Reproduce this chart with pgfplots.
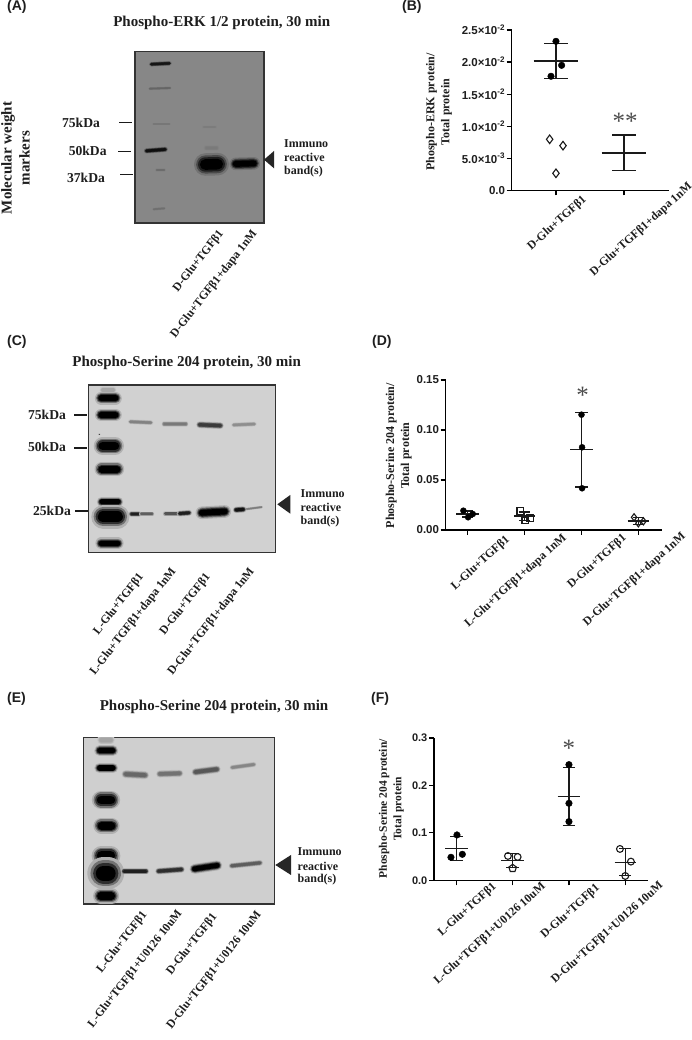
\documentclass[border=0pt]{standalone}
\usepackage{fontspec}
\setmainfont{Liberation Serif}
\newfontfamily\arialf{Liberation Sans}
\usepackage{pgfplots}
\pgfplotsset{compat=1.18}
\usetikzlibrary{plotmarks}
\definecolor{txt}{HTML}{1E1E1E}
\definecolor{ln}{HTML}{1A1A1A}
\colorlet{blotbg}{gray}
\newcommand{\fs}[1]{\bfseries\fontsize{#1}{#1}\selectfont}
% one blot band, in the blot's pixel coordinates: x1 y1 x2 y2 thickness strength
\newcommand{\band}[6]{%
 \addplot[no marks,line cap=round,shorten <=#5*0.5pt,shorten >=#5*0.5pt,line width=#5*1.8pt,color=black!#6!blotbg!15!blotbg] coordinates {(#1,#2)(#3,#4)};
 \addplot[no marks,line cap=round,shorten <=#5*0.5pt,shorten >=#5*0.5pt,line width=#5*1.45pt,color=black!#6!blotbg!45!blotbg] coordinates {(#1,#2)(#3,#4)};
 \addplot[no marks,line cap=round,shorten <=#5*0.5pt,shorten >=#5*0.5pt,line width=#5*1.15pt,color=black!#6!blotbg!78!blotbg] coordinates {(#1,#2)(#3,#4)};
 \addplot[no marks,line cap=round,shorten <=#5*0.5pt,shorten >=#5*0.5pt,line width=#5*0.85pt,color=black!#6!blotbg] coordinates {(#1,#2)(#3,#4)};
}
\newcommand{\seg}[4]{\addplot[no marks,ln,line width=1.1pt] coordinates {(#1,#2)(#3,#4)};}
\pgfplotsset{
 sc/.style={scale only axis,axis lines=left,axis line style={-,line width=1.5pt,black},
  tick style={line width=1.2pt,black},tick align=outside,major tick length=5pt,
  xticklabels={},clip=false,
  yticklabel style={font=\arialf\fs{#1},text=txt,inner sep=1.5pt},
  every axis label/.append style={font=\fs{12},text=txt,align=center}},
 blot/.style={scale only axis,ticks=none,clip=true,
  axis background/.style={fill=#1},axis line style={line width=1.1pt,color=black!80},
  y dir=reverse,title style={font=\fs{15},text=txt,anchor=center}},
 open/.style={only marks,mark=#1,mark options={draw=ln,fill=none,line width=1.1pt}},
 full/.style={only marks,mark=*,mark options={draw=black,fill=black}}
}
\tikzset{
 lanel/.style={font=\fs{11.8},text=txt,inner sep=0pt,anchor=east,rotate=52},
 scl/.style={font=\fs{11.8},text=txt,inner sep=0pt,anchor=east,rotate=42},
 mw/.style={font=\fs{13.6},text=txt,inner sep=0pt},
 imm/.style={font=\fs{12},text=txt,inner sep=0pt,anchor=west},
 pan/.style={font=\arialf\fs{14},text=txt,inner sep=0pt,anchor=west},
 star/.style={font=\mdseries\fontsize{25}{25}\selectfont,text=black!70,inner sep=0pt}
}
\begin{document}
\begin{tikzpicture}[x=1pt,y=1pt]
\path[use as bounding box,fill=white] (0,0) rectangle (692,1040);
\coordinate (pA) at (135,817);
\coordinate (pC) at (88.3,487.3);
\coordinate (pE) at (83.3,136);
\coordinate (pB) at (511.7,849.7);
\coordinate (pD) at (445.7,510);
\coordinate (pF) at (434,159.7);

% ---------- (A) blot
\colorlet{blotbg}{black!47}
\begin{axis}[blot=blotbg,at={(pA)},anchor=south west,width=129pt,height=171.3pt,
 xmin=135,xmax=264,ymin=51.7,ymax=223,
 title={Phospho-ERK 1/2 protein, 30 min},title style={at={(axis description cs:0.672,1.131)}}]
\band{150}{64.3}{170.7}{63.3}{2.6}{85}
\band{149}{88.7}{170.7}{88}{1.6}{25}
\band{153}{124}{170}{124}{1.5}{12}
\band{145}{151}{166.7}{149.3}{3}{90}
\band{156}{170}{165}{170}{1.8}{20}
\band{153}{209.3}{165}{208.3}{1.5}{18}
\band{205}{148}{218}{148}{3}{10}
\band{203}{127}{216}{127}{2}{8}
\band{199}{164.7}{224}{164}{12.5}{100}
\band{232.3}{164}{257.3}{163.3}{7}{100}
\end{axis}

% ---------- (C) blot
\colorlet{blotbg}{black!18}
\begin{axis}[blot=blotbg,at={(pC)},anchor=south west,width=187.4pt,height=167.7pt,
 xmin=88.3,xmax=275.7,ymin=385,ymax=552.7,
 title={Phospho-Serine 204 protein, 30 min},title style={at={(axis description cs:0.525,1.094)}}]
\band{101}{390}{115}{390}{4}{20}
\band{97.7}{398.3}{119}{398.3}{7}{100}
\band{97.7}{415}{119}{415}{7}{100}
\band{97.7}{446}{120}{446}{10}{100}
\band{97.7}{469.3}{121}{469.3}{8}{100}
\band{99}{501.7}{121}{501.7}{5.5}{100}
\band{96.7}{516.7}{124}{516.7}{13.5}{100}
\band{98}{543.3}{121}{543.3}{6.5}{100}
\band{99}{434.3}{99.8}{434.3}{1}{70}
\band{129}{421.7}{152.3}{422.7}{2.6}{38}
\band{162.7}{424}{187.3}{424}{2.8}{42}
\band{197.7}{424.7}{222.3}{425.7}{3.8}{72}
\band{232.3}{425}{255.7}{424}{2.6}{32}
\band{130}{514}{140}{514}{3.4}{85}
\band{140}{514}{153.3}{514}{2.6}{55}
\band{164}{513.7}{178}{513.7}{3}{60}
\band{178}{513.7}{190.7}{512.7}{3.2}{85}
\band{198.3}{513}{228.3}{511.3}{7}{100}
\band{245}{509.3}{262.3}{507}{1.5}{40}
\band{234.3}{510}{245}{509.3}{3.5}{92}
\end{axis}

% ---------- (E) blot
\colorlet{blotbg}{black!19}
\begin{axis}[blot=blotbg,at={(pE)},anchor=south west,width=191.4pt,height=166.3pt,
 xmin=83.3,xmax=274.7,ymin=737.7,ymax=904,
 title={Phospho-Serine 204 protein, 30 min},title style={at={(axis description cs:0.683,1.15)}}]
\band{99}{740}{113}{740}{5}{20}
\band{96.7}{750.7}{115.7}{750.7}{6}{100}
\band{96.7}{768}{115.7}{768}{6}{100}
\band{96}{800}{116}{800}{10.5}{100}
\band{97}{825.7}{116}{825.7}{9}{100}
\band{96}{855.7}{116}{855.7}{11}{100}
\band{94.5}{873.3}{117}{873.3}{18}{100}
\band{96.5}{896}{115.7}{896}{8.5}{100}
\band{123.3}{774}{147.3}{775.3}{4.5}{50}
\band{157.7}{774}{181.7}{773.3}{4}{45}
\band{193.3}{772.3}{219}{769}{4.2}{58}
\band{230.7}{767.7}{255.3}{764.3}{2.8}{35}
\band{122.3}{871.3}{147.7}{871.3}{3.4}{85}
\band{156.7}{871.3}{183.3}{869.3}{3.6}{78}
\band{191.7}{869.3}{220}{865}{5.5}{100}
\band{230}{866}{261.7}{862.7}{3.2}{55}
\end{axis}

% ---------- (B)
\begin{axis}[sc=11.5,at={(pB)},anchor=south west,width=157.3pt,height=160.3pt,
 xmin=-0.651,xmax=1.662,ymin=0,ymax=0.025,xtick={0,1},
 ytick={0,0.005,0.01,0.015,0.02,0.025},scaled y ticks=false,
 yticklabels={0.0,{5.0×10\textsuperscript{-3}},{1.0×10\textsuperscript{-2}},{1.5×10\textsuperscript{-2}},{2.0×10\textsuperscript{-2}},{2.5×10\textsuperscript{-2}}},
 ylabel={Phospho-ERK protein/\\[3pt]Total protein},
 ylabel style={at={(axis description cs:-0.463,0.488)},anchor=center}]
\addplot[full,mark size=3.3pt] coordinates {(0,0.02323)(0.083,0.01949)(-0.073,0.01778)};
\addplot[open=diamond,mark size=4.3pt] coordinates {(-0.093,0.00795)(0.103,0.00696)(0,0.00265)};
\seg{-0.33}{0.02017}{0.33}{0.02017}\seg{-0.17}{0.02292}{0.17}{0.02292}\seg{-0.17}{0.01741}{0.17}{0.01741}\seg{0}{0.02292}{0}{0.01741}
\seg{0.67}{0.00582}{1.33}{0.00582}\seg{0.83}{0.00863}{1.17}{0.00863}\seg{0.83}{0.00307}{1.17}{0.00307}\seg{1}{0.00863}{1}{0.00307}
\node[star] at (axis cs:1.015,0.0108) {**};
\end{axis}
\node[scl] at (585,841.7) {D-Glu+TGFβ1};
\node[scl] at (690.7,855) {D-Glu+TGFβ1+dapa 1nM};

% ---------- (D)
\begin{axis}[sc=11.5,at={(pD)},anchor=south west,width=216pt,height=150pt,
 xmin=-0.387,xmax=3.41,ymin=0,ymax=0.15,xtick={0,1,2,3},
 ytick={0,0.05,0.1,0.15},yticklabels={0.00,0.05,0.10,0.15},
 ylabel={Phospho-Serine 204 protein/\\[3pt]Total protein},
 ylabel style={at={(axis description cs:-0.217,0.495)},anchor=center}]
\addplot[full,mark size=3pt] coordinates {(-0.076,0.0193)(0.007,0.0127)(0.088,0.016)};
\addplot[open=square,mark size=3.3pt] coordinates {(0.924,0.019)(1.012,0.0097)(1.1,0.0117)};
\addplot[full,mark size=3pt] coordinates {(2,0.1153)(2.01,0.0827)(2.01,0.0417)};
\addplot[open=diamond,mark size=3.6pt] coordinates {(2.924,0.0127)(3,0.0067)(3.088,0.0087)};
\seg{-0.2}{0.016}{0.2}{0.016}\seg{-0.1}{0.019}{0.1}{0.019}\seg{-0.1}{0.013}{0.1}{0.013}\seg{0}{0.019}{0}{0.013}
\seg{0.81}{0.014}{1.19}{0.014}\seg{0.9}{0.018}{1.1}{0.018}\seg{0.9}{0.0097}{1.1}{0.0097}\seg{1}{0.018}{1}{0.0097}
\seg{1.804}{0.0803}{2.196}{0.0803}\seg{1.89}{0.1173}{2.11}{0.1173}\seg{1.89}{0.043}{2.11}{0.043}\seg{2}{0.1173}{2}{0.043}
\seg{2.81}{0.009}{3.19}{0.009}\seg{2.9}{0.0127}{3.1}{0.0127}\seg{2.9}{0.0053}{3.1}{0.0053}\seg{3}{0.0127}{3}{0.0053}
\node[star] at (axis cs:2.02,0.135) {*};
\end{axis}
\node[scl] at (508.3,501.7) {L-Glu+TGFβ1};
\node[scl] at (565,503.3) {L-Glu+TGFβ1+dapa 1nM};
\node[scl] at (625,503.3) {D-Glu+TGFβ1};
\node[scl] at (684,505) {D-Glu+TGFβ1+dapa 1nM};

% ---------- (F)
\begin{axis}[sc=11,at={(pF)},anchor=south west,width=213.7pt,height=142.3pt,
 xmin=-0.396,xmax=3.398,ymin=0,ymax=0.3,xtick={0,1,2,3},
 ytick={0,0.1,0.2,0.3},yticklabels={0.0,0.1,0.2,0.3},
 ylabel={Phospho-Serine 204 protein/\\[3pt]Total protein},
 ylabel style={at={(axis description cs:-0.2,0.502)},anchor=center,font=\fs{11.5}}]
\addplot[full,mark size=3.3pt] coordinates {(0.012,0.0956)(-0.095,0.0485)(0.107,0.0548)};
\addplot[open=o,mark size=3.4pt] coordinates {(0.917,0.0513)(1.089,0.0492)};
\addplot[open=pentagon,mark size=4pt] coordinates {(1,0.0253)};
\addplot[full,mark size=3.3pt] coordinates {(2,0.2438)(2,0.1623)(2,0.1237)};
\addplot[open=o,mark size=3.4pt] coordinates {(2.905,0.0661)(3.1,0.0394)(3,0.0091)};
\seg{-0.2}{0.0668}{0.2}{0.0668}\seg{-0.11}{0.0928}{0.11}{0.0928}\seg{-0.11}{0.0408}{0.11}{0.0408}\seg{0}{0.0928}{0}{0.0408}
\seg{0.8}{0.0422}{1.2}{0.0422}\seg{0.89}{0.0562}{1.11}{0.0562}\seg{0.89}{0.0263}{1.11}{0.0263}\seg{1}{0.0562}{1}{0.0263}
\seg{1.8}{0.1771}{2.2}{0.1771}\seg{1.89}{0.2375}{2.11}{0.2375}\seg{1.89}{0.116}{2.11}{0.116}\seg{2}{0.2375}{2}{0.116}
\seg{2.81}{0.038}{3.19}{0.038}\seg{2.894}{0.0661}{3.106}{0.0661}\seg{2.894}{0.0105}{3.106}{0.0105}\seg{3}{0.0661}{3}{0.0105}
\node[star] at (axis cs:2,0.278) {*};
\end{axis}
\node[scl] at (495,155) {L-Glu+TGFβ1};
\node[scl] at (544,155) {L-Glu+TGFβ1+U0126 10uM};
\node[scl] at (598.3,153.3) {D-Glu+TGFβ1};
\node[scl] at (661.7,156) {D-Glu+TGFβ1+U0126 10uM};

% ---------- panel letters
\node[pan] at (7,1033) {(A)};
\node[pan] at (402,1033) {(B)};
\node[pan] at (7,698) {(C)};
\node[pan] at (372,698) {(D)};
\node[pan] at (7,341) {(E)};
\node[pan] at (371,341) {(F)};

% ---------- annotations of (A)
\node[font=\fs{15},text=txt,rotate=90,align=center,inner sep=0pt] at (15.5,882) {Molecular weight\\[3pt]markers};
\node[mw] at (81,916.7) {75kDa};
\node[mw] at (87.7,888.7) {50kDa};
\node[mw] at (86,862) {37kDa};
\draw[line width=1.2pt,ln] (119,917.3)--(131.7,917.3);
\draw[line width=1.2pt,ln] (118,888.7)--(130.7,888.7);
\draw[line width=1.2pt,ln] (120,865.3)--(132.7,865.3);
\fill[black!85] (264,880.3)--(274,889)--(274,871.7)--cycle;
\node[imm] at (284,896.7) {Immuno};
\node[imm] at (284,882.7) {reactive};
\node[imm] at (284,868.7) {band(s)};
\node[lanel] at (221.7,808.3) {D-Glu+TGFβ1};
\node[lanel] at (255,808.3) {D-Glu+TGFβ1+dapa 1nM};

% ---------- annotations of (C)
\node[mw] at (47,625) {75kDa};
\node[mw] at (47,592.7) {50kDa};
\node[mw] at (52,529) {25kDa};
\draw[line width=1.2pt,ln] (74,625)--(87,625);
\draw[line width=1.2pt,ln] (74,592)--(87,592);
\draw[line width=1.2pt,ln] (75,529)--(88,529);
\fill[black!85] (277.3,535.7)--(290.3,545)--(290.3,526.3)--cycle;
\node[imm] at (300.5,546.7) {Immuno};
\node[imm] at (300.5,532.7) {reactive};
\node[imm] at (300.5,518) {band(s)};
\node[lanel] at (141.7,465) {L-Glu+TGFβ1};
\node[lanel] at (174,470.7) {L-Glu+TGFβ1+dapa 1nM};
\node[lanel] at (208.3,465) {D-Glu+TGFβ1};
\node[lanel] at (252.3,470.7) {D-Glu+TGFβ1+dapa 1nM};

% ---------- annotations of (E)
\fill[black!85] (275.3,175)--(291,185)--(291,165)--cycle;
\node[imm] at (297.5,188) {Immuno};
\node[imm] at (297.5,174) {reactive};
\node[imm] at (297.5,160) {band(s)};
\node[lanel] at (145,126.7) {L-Glu+TGFβ1};
\node[lanel] at (180,128.3) {L-Glu+TGFβ1+U0126 10uM};
\node[lanel] at (215,125) {D-Glu+TGFβ1};
\node[lanel] at (259.3,127.3) {D-Glu+TGFβ1+U0126 10uM};
\end{tikzpicture}
\end{document}
